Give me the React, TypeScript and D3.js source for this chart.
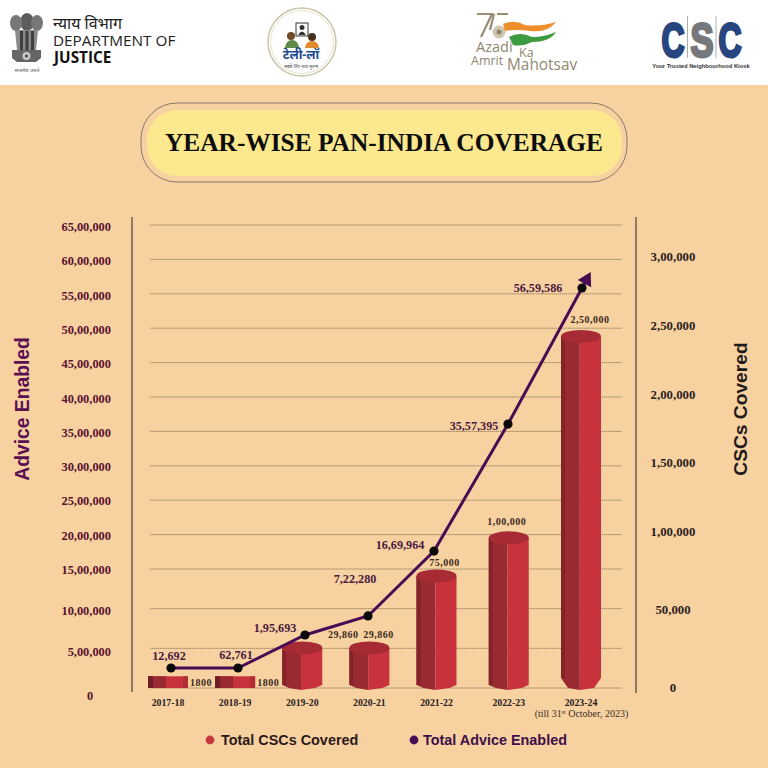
import * as d3 from "d3";

const years = ["2017-18", "2018-19", "2019-20", "2020-21", "2021-22", "2022-23", "2023-24"];

// printed numbers
const cscLabels = ["1800", "1800", "29,860", "29,860", "75,000", "1,00,000", "2,50,000"];
const adviceLabels = ["12,692", "62,761", "1,95,693", "7,22,280", "16,69,964", "35,57,395", "56,59,586"];

// heights as they are drawn in the picture (the poster is not to scale)
const cscDrawn = [7500, 7500, 29860, 29860, 76000, 100500, 247000];
const adviceDrawn = [252000, 252000, 668000, 908000, 1760000, 3607000, 5584000];

const leftTicks = [0, 500000, 1000000, 1500000, 2000000, 2500000, 3000000, 3500000, 4000000, 4500000, 5000000, 5500000, 6000000, 6500000];
const leftTickLabels = ["0", "5,00,000", "10,00,000", "15,00,000", "20,00,000", "25,00,000", "30,00,000", "35,00,000", "40,00,000", "45,00,000", "50,00,000", "55,00,000", "60,00,000", "65,00,000"];
const rightTicks = [0, 50000, 100000, 150000, 200000, 250000, 300000];
const rightTickLabels = ["0", "50,000", "1,00,000", "1,50,000", "2,00,000", "2,50,000", "3,00,000"];

// label nudges [dx, dy] from the mark they belong to
const cscLabelNudge = [[33, 10], [33, 10], [41, -3], [9, -3], [8, -3], [-2, -6], [9, -7]];
const adviceLabelNudge = [[-2, -8], [-2, -9], [-30, -3], [-13, -33], [-34, -2], [-34, 6], [-44, 4]];

const PEACH = "#f7d1a0";
const PURPLE = "#4a0b55";
const SERIF = "'Liberation Serif', serif";
const SANS = "'Liberation Sans', sans-serif";
const DEVANAGARI = "'Noto Sans', sans-serif";

// axes are stretched near the bottom in the original, hence the extra stops
const yLeft = d3.scaleLinear().domain([0, 1500000, 6500000]).range([688, 569, 225]);
const yLeftLabel = d3.scaleLinear().domain([0, 500000, 1500000, 6500000]).range([696, 652, 570, 227]);
const yRight = d3.scaleLinear().domain([0, 100000, 300000]).range([688, 532, 257]);
const x = d3.scaleLinear().domain([0, 4, 6]).range([168, 436.5, 581]);
const xLine = d3.scaleLinear().domain([0, 2, 3, 4, 5, 6]).range([171, 305, 368, 434, 508, 582]);

const BAR_W = 40;
const BAR_BOTTOM = 690;

function Bar({ i, v }: { i: number; v: number }) {
  const top = yRight(v);
  const x0 = x(i) - BAR_W / 2;
  const x1 = x0 + BAR_W;
  const mid = x0 + BAR_W * 0.47;
  if (v < 10000) {
    return (
      <g>
        <rect x={x0} y={top} width={BAR_W} height={688 - top} fill="#c8323c" />
        <rect x={x0} y={top} width={BAR_W * 0.45} height={688 - top} fill="#9a2a31" />
        <rect x={x0} y={top} width={5} height={688 - top} fill="#6f1f24" />
        <rect x={x1 - 5} y={top} width={5} height={688 - top} fill="#b42d36" />
      </g>
    );
  }
  const ry = 6.5;
  const cut = v > 200000 ? 12 : 5;
  const midY = top + ry;
  const leftShape = d3.path();
  leftShape.moveTo(x0, midY);
  leftShape.lineTo(x0, BAR_BOTTOM - cut);
  leftShape.lineTo(x0 + 7, BAR_BOTTOM - 2);
  leftShape.lineTo(mid, BAR_BOTTOM);
  leftShape.lineTo(mid, midY);
  leftShape.closePath();
  const rightShape = d3.path();
  rightShape.moveTo(mid, midY + 2);
  rightShape.lineTo(mid, BAR_BOTTOM);
  rightShape.lineTo(x1 - 7, BAR_BOTTOM - 2);
  rightShape.lineTo(x1, BAR_BOTTOM - cut);
  rightShape.lineTo(x1, midY);
  rightShape.closePath();
  return (
    <g>
      <path d={leftShape.toString()} fill="#9a2a31" />
      <path d={rightShape.toString()} fill="#c8323c" />
      <rect x={x0} y={midY} width={4} height={BAR_BOTTOM - cut - midY} fill="#84242a" />
      <ellipse cx={x0 + BAR_W / 2} cy={midY} rx={BAR_W / 2} ry={ry} fill="#a62b34" />
    </g>
  );
}

function Emblem() {
  return (
    <g fill="#5d5d5d">
      <ellipse cx={27} cy={22} rx={7} ry={9} />
      <ellipse cx={16} cy={23} rx={6} ry={8} fill="#777" />
      <ellipse cx={37} cy={23} rx={6} ry={8} fill="#777" />
      <path d="M15 30 H38 L36 50 H17 Z" fill="#8a8a8a" />
      <rect x={20} y={31} width={3} height={19} fill="#3f3f3f" />
      <rect x={25.5} y={31} width={3} height={19} fill="#3f3f3f" />
      <rect x={31} y={31} width={3} height={19} fill="#3f3f3f" />
      <path d="M12 50 H41 V58 L36 62 H17 L12 58 Z" fill="#666" />
      <circle cx={26.5} cy={56} r={4} fill="#c8c8c8" />
      <circle cx={26.5} cy={56} r={1.5} fill="#444" />
      <text x={27} y={72} fontSize={5.2} textAnchor="middle" fontFamily={DEVANAGARI}>सत्यमेव जयते</text>
    </g>
  );
}

function TeleLaw() {
  return (
    <g>
      <circle cx={302} cy={42} r={34} fill="#fff" stroke="#c9c4a4" strokeWidth={1.5} />
      <circle cx={302} cy={42} r={31.5} fill="none" stroke="#e6e2cc" strokeWidth={1} />
      <rect x={296} y={23} width={12} height={13} fill="#fff" stroke="#333" strokeWidth={1} />
      <circle cx={302} cy={27.5} r={2.5} fill="#333" />
      <path d="M298 35 Q302 28 306 35 Z" fill="#333" />
      <circle cx={291} cy={36} r={4} fill="#6f4a2b" />
      <path d="M285 48 Q286 40 292 40 Q298 40 299 48 Z" fill="#5e8a45" />
      <circle cx={312} cy={37} r={4} fill="#4a2f1c" />
      <path d="M305 48 Q306 41 312 41 Q318 41 319 48 Z" fill="#e08a2c" />
      <text x={301} y={59} fontSize={12.5} fontWeight={700} textAnchor="middle" fill="#1f4a8f" fontFamily={DEVANAGARI}>टेली-लॉ</text>
      <text x={301} y={67.5} fontSize={4.2} textAnchor="middle" fill="#444" fontFamily={DEVANAGARI}>सबके लिए न्याय सुलभ</text>
    </g>
  );
}

function Azadi() {
  return (
    <g>
      <path d="M477 14 H492 L481 37 M497 14 H508 M494 14 L490 30" fill="none" stroke="#9a8f74" strokeWidth={2.2} />
      <circle cx={499} cy={32} r={6.5} fill="#cfc7b0" />
      <circle cx={499} cy={32} r={2.5} fill="#8f8570" />
      <path d="M503 24 Q514 19 525 25 Q540 27 556 22 Q548 33 530 31 Q515 29 505 31 Z" fill="#ee8f2c" />
      <path d="M509 37 Q520 31 532 37 Q545 37 556 32 Q550 42 532 42 Q522 47 513 45 Q511 41 509 37 Z" fill="#3d9a3f" />
      <g fill="#90876f" fontFamily="'Open Sans', sans-serif">
        <text x={476} y={52} fontSize={14.5}>Azadi</text>
        <text x={519} y={56.5} fontSize={12.5}>Ka</text>
        <text x={471} y={65} fontSize={12.5}>Amrit</text>
        <text x={507} y={69.5} fontSize={15.4}>Mahotsav</text>
      </g>
    </g>
  );
}

function CscLogo() {
  const letter = { fontFamily: SANS, fontWeight: 700, fontSize: 48, textAnchor: "middle" as const };
  return (
    <g>
      <text x={673} y={56.5} {...letter} fill="#27457f" textLength={23} lengthAdjust="spacingAndGlyphs" stroke="#27457f" strokeWidth={3}>C</text>
      <text x={702} y={56.5} {...letter} fill="#77787b" textLength={23} lengthAdjust="spacingAndGlyphs" stroke="#77787b" strokeWidth={3}>S</text>
      <text x={730} y={56.5} {...letter} fill="#27457f" textLength={23} lengthAdjust="spacingAndGlyphs" stroke="#27457f" strokeWidth={3}>C</text>
      <path d="M687.5 16 V58 M716 16 V58" stroke="#999" strokeWidth={0.8} />
      <text x={701} y={68} fontSize={5.8} fontWeight={700} textAnchor="middle" fill="#333" fontFamily={SANS}>Your Trusted Neighbourhood Kiosk</text>
    </g>
  );
}

export default function App() {
  const points = adviceDrawn.map((v, i) => [xLine(i), yLeft(v)] as [number, number]);
  const [px, py] = points[points.length - 2];
  const [lx, ly] = points[points.length - 1];
  const angle = Math.atan2(lx - px, py - ly);
  const arrowX = lx + Math.sin(angle) * 9.5;
  const arrowY = ly - Math.cos(angle) * 9.5;
  const linePath = d3.line()([...points, [arrowX, arrowY]]) ?? "";
  const arrowHead = d3.symbol(d3.symbolTriangle, 100)() ?? "";

  return (
    <svg width={768} height={768} viewBox="0 0 768 768" style={{ position: "absolute", left: 0, top: 0 }}>
      <rect width={768} height={768} fill={PEACH} />
      <rect width={768} height={85} fill="#fff" />

      <Emblem />
      <text x={53} y={29} fontSize={16} fill="#222" fontFamily={DEVANAGARI}>न्याय विभाग</text>
      <text x={53} y={46} fontSize={15.3} fill="#222" fontFamily="'Open Sans', sans-serif">DEPARTMENT OF</text>
      <text x={54} y={63} fontSize={15.3} fontWeight={700} fill="#111" fontFamily="'Open Sans', sans-serif">JUSTICE</text>
      <TeleLaw />
      <Azadi />
      <CscLogo />

      <rect x={141} y={103} width={486} height={79} rx={36} fill={PEACH} stroke="#85796b" strokeWidth={1} />
      <rect x={147} y={110} width={475} height={66} rx={30} fill="#fbe88f" />
      <text x={384} y={151} fontSize={26} fontWeight={700} textAnchor="middle" fill="#0d0d0d" fontFamily={SERIF} textLength={438} lengthAdjust="spacingAndGlyphs">YEAR-WISE PAN-INDIA COVERAGE</text>

      {/* grid */}
      {leftTicks.map((t) => (
        <line key={t} x1={150} x2={622} y1={yLeft(t)} y2={yLeft(t)} stroke="#a08a68" strokeWidth={1} strokeDasharray="1.5 0.5" />
      ))}
      <line x1={132} x2={132} y1={217} y2={692} stroke="#8d7a60" strokeWidth={2} />
      <line x1={636} x2={636} y1={217} y2={693} stroke="#8d7a60" strokeWidth={2} />

      {/* left axis */}
      {leftTicks.map((t, i) => (
        <text key={t} x={t === 0 ? 90 : 111} y={yLeftLabel(t) + 4} fontSize={12.4} fontWeight={700} textAnchor={t === 0 ? "middle" : "end"} fill="#5a1230" fontFamily={SERIF}>{leftTickLabels[i]}</text>
      ))}
      {/* right axis */}
      {rightTicks.map((t, i) => (
        <text key={t} x={673} y={yRight(t) + 4} fontSize={12.8} fontWeight={700} textAnchor="middle" fill="#2b2222" fontFamily={SERIF}>{rightTickLabels[i]}</text>
      ))}

      <text transform="translate(29,409) rotate(-90)" fontSize={19.3} fontWeight={700} textAnchor="middle" fill="#5a0f52" fontFamily={SANS}>Advice Enabled</text>
      <text transform="translate(747,409) rotate(-90)" fontSize={19.2} fontWeight={700} textAnchor="middle" fill="#221a1a" fontFamily={SANS}>CSCs Covered</text>

      {cscDrawn.map((v, i) => (
        <Bar key={i} i={i} v={v} />
      ))}

      <path d={linePath} fill="none" stroke={PURPLE} strokeWidth={3} />
      <path d={arrowHead} transform={`translate(${arrowX},${arrowY}) rotate(${(angle * 180) / Math.PI})`} fill={PURPLE} />
      {points.map(([cx, cy], i) => (
        <circle key={i} cx={cx} cy={cy} r={4.6} fill="#0a0a0a" />
      ))}

      {cscLabels.map((label, i) => (
        <text key={i} x={x(i) + cscLabelNudge[i][0]} y={yRight(cscDrawn[i]) + cscLabelNudge[i][1]} fontSize={10} fontWeight={700} letterSpacing={0.5} textAnchor="middle" fill="#3a2a22" fontFamily={SERIF}>{label}</text>
      ))}
      {adviceLabels.map((label, i) => (
        <text key={i} x={points[i][0] + adviceLabelNudge[i][0]} y={points[i][1] + adviceLabelNudge[i][1]} fontSize={12.2} fontWeight={700} textAnchor="middle" fill="#4c1a40" fontFamily={SERIF}>{label}</text>
      ))}

      {years.map((y, i) => (
        <text key={y} x={x(i)} y={706} fontSize={9.8} fontWeight={700} textAnchor="middle" fill="#2b2222" fontFamily={SERIF}>{y}</text>
      ))}
      <text x={581.5} y={717} fontSize={10} textAnchor="middle" fill="#3a2f2a" fontFamily={SERIF}>
        (till 31<tspan fontSize={6} dy={-3}>st</tspan><tspan dy={3}> October, 2023)</tspan>
      </text>

      <circle cx={210} cy={740} r={4.4} fill="#c8393f" />
      <text x={221} y={745} fontSize={14.4} fontWeight={700} fill="#2a1a1a" fontFamily={SANS}>Total CSCs Covered</text>
      <circle cx={414} cy={740} r={4.4} fill={PURPLE} />
      <text x={423} y={745} fontSize={14.4} fontWeight={700} fill="#3d0f4a" fontFamily={SANS}>Total Advice Enabled</text>
    </svg>
  );
}
